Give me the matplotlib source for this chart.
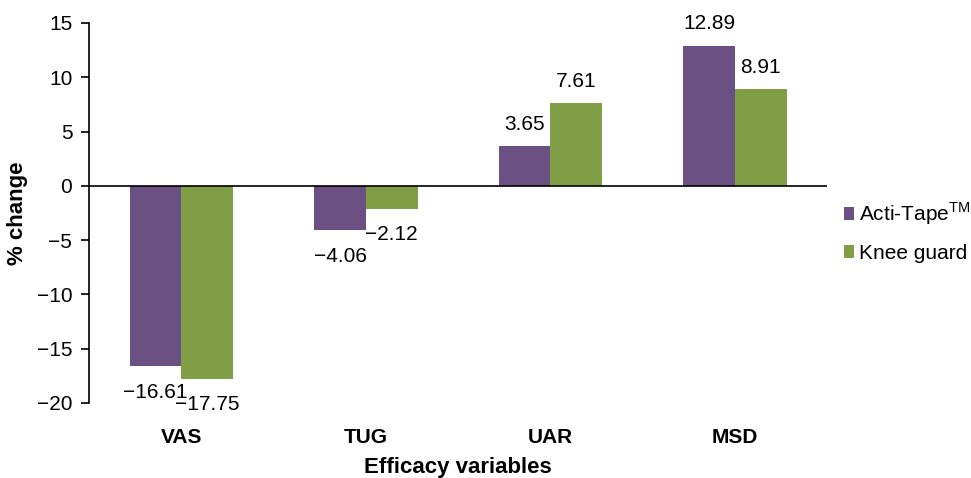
import matplotlib
matplotlib.use("Agg")
import matplotlib.pyplot as plt
import numpy as np

categories = ["VAS", "TUG", "UAR", "MSD"]
acti_tape = [-16.61, -4.06, 3.65, 12.89]
knee_guard = [-17.75, -2.12, 7.61, 8.91]
labels_acti = ["\u221216.61", "\u22124.06", "3.65", "12.89"]
labels_knee = ["\u221217.75", "\u22122.12", "7.61", "8.91"]
yticks = [-20, -15, -10, -5, 0, 5, 10, 15]

plt.rcParams['font.family'] = ['Liberation Sans', 'DejaVu Sans']
plt.rcParams['mathtext.fontset'] = 'custom'
plt.rcParams['mathtext.rm'] = 'Liberation Sans'

fig = plt.figure(figsize=(9.71, 4.78), dpi=100)
ax = fig.add_axes([0.0917, 0.157, 0.7603, 0.795])

purple = "#6A5083"
green = "#7F9E45"
x = np.arange(len(categories))
w = 0.28
b1 = ax.bar(x - w/2, acti_tape, w, color=purple, label="Acti-Tape$^{\\mathrm{TM}}$")
b2 = ax.bar(x + w/2, knee_guard, w, color=green, label="Knee guard")

for bars, vals, labs in ((b1, acti_tape, labels_acti), (b2, knee_guard, labels_knee)):
    for r, v, lab in zip(bars, vals, labs):
        if v < 0:
            off, va = -12, 'top'
        else:
            off, va = 9, 'bottom'
        ax.annotate(lab, (r.get_x() + r.get_width()/2, v), xytext=(0, off),
                    textcoords='offset points', ha='center', va=va, fontsize=15)

ax.set_xlim(-0.5, len(categories) - 0.5)
ax.set_ylim(-20, 15)
ax.set_yticks(yticks)
ax.set_yticklabels([("\u2212" + str(-t)) if t < 0 else str(t) for t in yticks], fontsize=15)
ax.set_xticks(x)
ax.set_xticklabels(categories, fontsize=15, fontweight='bold')
ax.tick_params(axis='x', length=0, pad=18)
ax.tick_params(axis='y', length=6, direction='out', width=1.2, pad=6)
ax.axhline(0, color='black', lw=1.2)
for s in ['top', 'right', 'bottom']:
    ax.spines[s].set_visible(False)
ax.spines['left'].set_linewidth(1.2)
ax.set_ylabel("% change", fontsize=16, fontweight='bold', labelpad=6)
ax.set_xlabel("Efficacy variables", fontsize=16, fontweight='bold', labelpad=7)

leg = ax.legend(loc='center left', bbox_to_anchor=(1.022, 0.45), frameon=False, fontsize=15,
                handlelength=0.5, handleheight=0.6, handletextpad=0.25, labelspacing=0.8,
                borderaxespad=0.0, borderpad=0.0)

fig.savefig("out.png", dpi=100)
